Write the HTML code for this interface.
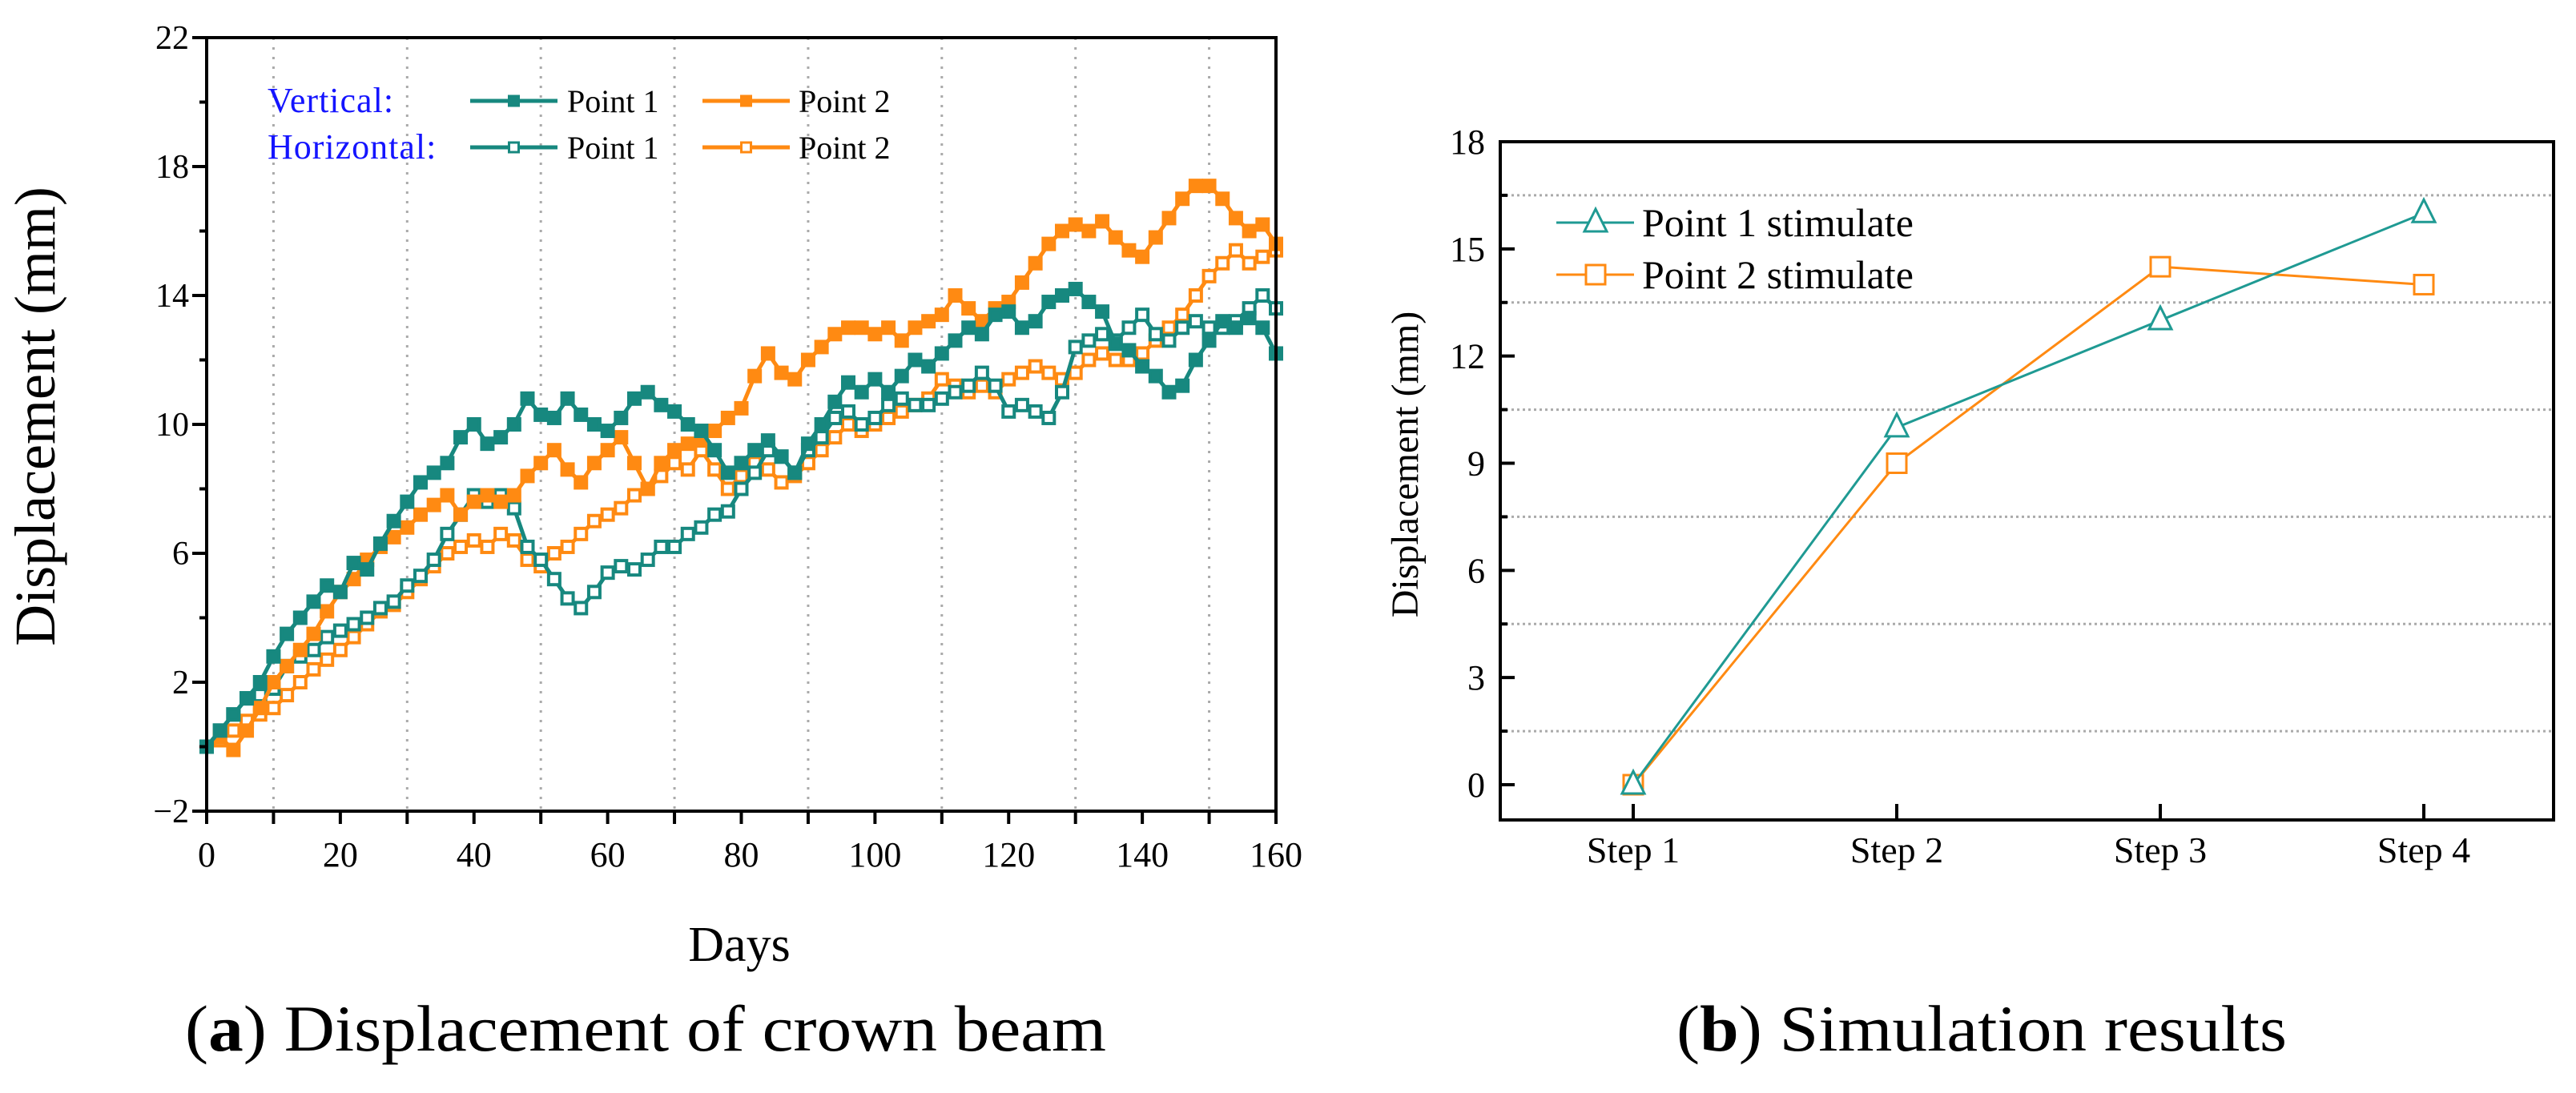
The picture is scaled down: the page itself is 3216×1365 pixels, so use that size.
<!DOCTYPE html>
<html><head><meta charset="utf-8"><style>
html,body{margin:0;padding:0;background:#fff;}
svg{display:block;font-family:"Liberation Serif",serif;}
</style></head><body>
<svg id="svg" width="3216" height="1365" viewBox="0 0 3216 1365" xmlns="http://www.w3.org/2000/svg">
<g id="ga"></g>
<g id="gb"></g>
<text x="231" y="1312" font-size="82" textLength="1150" lengthAdjust="spacingAndGlyphs">(<tspan font-weight="bold">a</tspan>) Displacement of crown beam</text>
<text x="2093" y="1312" font-size="82" textLength="762" lengthAdjust="spacingAndGlyphs">(<tspan font-weight="bold">b</tspan>) Simulation results</text>
</svg>
<script>
const days = [];
for (let d = 0; d <= 160; d += 2) days.push(d);
const vertP1 = [0,0.5,1,1.5,2,2.8,3.5,4,4.5,5,4.8,5.7,5.5,6.3,7,7.6,8.2,8.5,8.8,9.6,10,9.4,9.6,10,10.8,10.3,10.2,10.8,10.3,10,9.8,10.2,10.8,11,10.6,10.4,10,9.8,9.2,8.5,8.8,9.2,9.5,9.0,8.5,9.4,10.0,10.7,11.3,11.0,11.4,11.0,11.5,12.0,11.8,12.2,12.6,13.0,12.8,13.4,13.5,13.0,13.2,13.8,14.0,14.2,13.8,13.5,12.5,12.3,11.8,11.5,11.0,11.2,12.0,12.6,13.2,13.0,13.3,13.0,12.2];
const vertP2 = [0,0.3,-0.1,0.5,1.2,2,2.5,3,3.5,4.2,4.8,5.2,5.8,6.2,6.5,6.8,7.2,7.5,7.8,7.2,7.6,7.8,7.6,7.8,8.4,8.8,9.2,8.6,8.2,8.8,9.2,9.6,8.8,8.0,8.8,9.2,9.4,9.5,9.8,10.2,10.5,11.5,12.2,11.6,11.4,12.0,12.4,12.8,13.0,13.0,12.8,13.0,12.6,13.0,13.2,13.4,14.0,13.6,13.2,13.6,13.8,14.4,15.0,15.6,16.0,16.2,16.0,16.3,15.8,15.4,15.2,15.8,16.4,17.0,17.4,17.4,17.0,16.4,16.0,16.2,15.6];
const horP1 = [0,0.5,1,1.5,1.6,1.8,2.5,2.8,3.0,3.4,3.6,3.8,4.0,4.3,4.5,5.0,5.3,5.8,6.6,7.2,7.8,7.6,7.8,7.4,6.2,5.8,5.2,4.6,4.3,4.8,5.4,5.6,5.5,5.8,6.2,6.2,6.6,6.8,7.2,7.3,8.0,8.5,9.2,9.0,8.5,9.2,9.6,10.2,10.4,10.0,10.2,10.6,10.8,10.6,10.6,10.8,11.0,11.2,11.6,11.2,10.4,10.6,10.4,10.2,11.0,12.4,12.6,12.8,12.6,13.0,13.4,12.8,12.6,13.0,13.2,13.0,13.0,13.2,13.6,14.0,13.6];
const horP2 = [0,0.2,0.5,0.8,1.0,1.2,1.6,2.0,2.4,2.7,3.0,3.4,3.8,4.2,4.4,4.8,5.2,5.6,6.0,6.2,6.4,6.2,6.6,6.4,5.8,5.6,6.0,6.2,6.6,7.0,7.2,7.4,7.8,8.0,8.4,8.8,8.6,9.2,8.6,8.0,8.4,8.8,8.6,8.2,8.4,8.8,9.2,9.6,10.0,9.8,10.0,10.2,10.4,10.6,10.8,11.4,11.2,11.0,11.2,11.0,11.4,11.6,11.8,11.6,11.4,11.6,12.0,12.2,12.0,12.0,12.2,12.6,13.0,13.4,14.0,14.6,15.0,15.4,15.0,15.2,15.4];
const aXTicks = [0,20,40,60,80,100,120,140,160];
const aYTicks = [-2,2,6,10,14,18,22];

const steps = ["Step 1","Step 2","Step 3","Step 4"];
const simP1 = [0,10,13,16];
const simP2 = [0,9,14.5,14];
const bYTicks = [0,3,6,9,12,15,18];

const TEAL = "#17887f", ORANGE = "#ff8a12";
const NS = "http://www.w3.org/2000/svg";
function mk(parent, tag, attrs, text){
  const e = document.createElementNS(NS, tag);
  for (const k in attrs) e.setAttribute(k, attrs[k]);
  if (text !== undefined) e.textContent = text;
  parent.appendChild(e);
  return e;
}
// ---- Chart A ----
const A = {l:258, r:1593, t:47, b:1013, xmin:0, xmax:160, ymin:-2, ymax:22};
const ax = d => A.l + (d - A.xmin) / (A.xmax - A.xmin) * (A.r - A.l);
const ay = v => A.b - (v - A.ymin) / (A.ymax - A.ymin) * (A.b - A.t);
const ga = document.getElementById("ga");
for (let d = 10; d < 160; d += 20) {
  const g = mk(ga, "line", {x1:ax(d), x2:ax(d), y1:A.t, y2:A.b, stroke:"#aaa", "stroke-width":3, "stroke-dasharray":"3 9"});
  
  
}
function seriesA(vals, color, filled, name){
  const g = mk(ga, "g", {});
  
  
  const pts = days.map((d,i) => ax(d).toFixed(1) + "," + ay(vals[i]).toFixed(1)).join(" ");
  mk(g, "polyline", {points:pts, fill:"none", stroke:color, "stroke-width":5, "stroke-linejoin":"round"});
  days.forEach((d,i) => {
    const m = mk(g, "rect", {x:ax(d)-7, y:ay(vals[i])-7, width:14, height:14, fill: filled ? color : "#fff", stroke:color, "stroke-width":4});
    
    
  });
}
seriesA(horP2, ORANGE, false, "series-horizontal-point2");
seriesA(horP1, TEAL, false, "series-horizontal-point1");
seriesA(vertP2, ORANGE, true, "series-vertical-point2");
seriesA(vertP1, TEAL, true, "series-vertical-point1");
mk(ga, "rect", {x:A.l, y:A.t, width:A.r-A.l, height:A.b-A.t, fill:"none", stroke:"#000", "stroke-width":4});
for (let d = 0; d <= 160; d += 10) {
  mk(ga, "line", {x1:ax(d), x2:ax(d), y1:A.b, y2:A.b+16, stroke:"#000", "stroke-width":4});
}
aXTicks.forEach(d => {
  const t = mk(ga, "text", {x:ax(d), y:1082, "font-size":44, "text-anchor":"middle"}, String(d));
  
  
});
for (let v = -2; v <= 22; v += 2) {
  const major = (v + 2) % 4 === 0;
  mk(ga, "line", {x1:A.l - (major ? 18 : 9), x2:A.l, y1:ay(v), y2:ay(v), stroke:"#000", "stroke-width":4});
}
aYTicks.forEach(v => {
  const t = mk(ga, "text", {x:236, y:ay(v)+14, "font-size":42, "text-anchor":"end"}, v < 0 ? "\u2212" + Math.abs(v) : String(v));
  
  
});
let t;
t = mk(ga, "text", {x:923, y:1200, "font-size":62, "text-anchor":"middle"}, "Days");


t = mk(ga, "text", {x:0, y:0, "font-size":72, "text-anchor":"middle", transform:"translate(68,520) rotate(-90)"}, "Displacement (mm)");


// legend A
const legA = mk(ga, "g", {});


mk(legA, "text", {x:334, y:140, "font-size":44, fill:"#1414ff", "letter-spacing":"1"}, "Vertical:");
mk(legA, "text", {x:334, y:198, "font-size":44, fill:"#1414ff", "letter-spacing":"1"}, "Horizontal:");
[[138,true],[196,false]].forEach(([y,filled]) => {
  [[587,696,TEAL,708],[877,986,ORANGE,997]].forEach(([x1,x2,c,tx]) => {
    const e = mk(legA, "g", {});
    
    
    mk(e, "line", {x1:x1, x2:x2, y1:y-12, y2:y-12, stroke:c, "stroke-width":5});
    mk(e, "rect", {x:(x1+x2)/2-6, y:y-18, width:12, height:12, fill: filled ? c : "#fff", stroke:c, "stroke-width":3});
    mk(e, "text", {x:tx, y:y+2, "font-size":40}, c === TEAL ? "Point 1" : "Point 2");
  });
});
// ---- Chart B ----
const B = {l:1873, r:3188, t:177, b:1024, ymin:0, ymax:18, x0:2039, dx:329};
const bx = i => B.x0 + i * B.dx;
const by = v => 980 - (v - B.ymin) / (B.ymax - B.ymin) * (980 - 177);
const gb = document.getElementById("gb");
for (let v = 1.5; v < 18; v += 3) {
  const g = mk(gb, "line", {x1:B.l, x2:B.r, y1:by(v), y2:by(v), stroke:"#aaa", "stroke-width":3, "stroke-dasharray":"3 4"});
  
  
  mk(gb, "line", {x1:B.l, x2:B.l+9, y1:by(v), y2:by(v), stroke:"#000", "stroke-width":4});
}
mk(gb, "rect", {x:B.l, y:B.t, width:B.r-B.l, height:B.b-B.t, fill:"none", stroke:"#000", "stroke-width":4});
bYTicks.forEach(v => {
  mk(gb, "line", {x1:B.l, x2:B.l+18, y1:by(v), y2:by(v), stroke:"#000", "stroke-width":4});
  const tt = mk(gb, "text", {x:1854, y:by(v)+15, "font-size":44, "text-anchor":"end"}, String(v));
  
  
});
steps.forEach((s,i) => {
  mk(gb, "line", {x1:bx(i), x2:bx(i), y1:B.b, y2:B.b-20, stroke:"#000", "stroke-width":4});
  const tt = mk(gb, "text", {x:bx(i), y:1077, "font-size":46, "text-anchor":"middle"}, s);
  
  
});
t = mk(gb, "text", {x:0, y:0, "font-size":48, "text-anchor":"middle", transform:"translate(1770,580) rotate(-90)"}, "Displacement (mm)");


function tri(g, x, y, c){ return mk(g, "polygon", {points:`${x},${y-17} ${x-14},${y+11} ${x+14},${y+11}`, fill:"#fff", stroke:c, "stroke-width":3}); }
function sq(g, x, y, c){ return mk(g, "rect", {x:x-12, y:y-12, width:24, height:24, fill:"#fff", stroke:c, "stroke-width":3}); }
function seriesB(vals, color, marker, name){
  const g = mk(gb, "g", {});
  
  
  mk(g, "polyline", {points: vals.map((v,i) => bx(i)+","+by(v)).join(" "), fill:"none", stroke:color, "stroke-width":3});
  vals.forEach((v,i) => {
    const m = marker(g, bx(i), by(v), color);
    
    
  });
}
seriesB(simP2, ORANGE, sq, "series-point2-simulate");
seriesB(simP1, "#1f9a93", tri, "series-point1-simulate");
const legB = mk(gb, "g", {});


[[278,"#1f9a93",tri,"Point 1 stimulate"],[343,ORANGE,sq,"Point 2 stimulate"]].forEach(([y,c,m,label]) => {
  const e = mk(legB, "g", {});
  
  
  mk(e, "line", {x1:1943, x2:2040, y1:y, y2:y, stroke:c, "stroke-width":3});
  m(e, 1992, y, c);
  mk(e, "text", {x:2050, y:y+17, "font-size":50}, label);
});
</script>
</body></html>
